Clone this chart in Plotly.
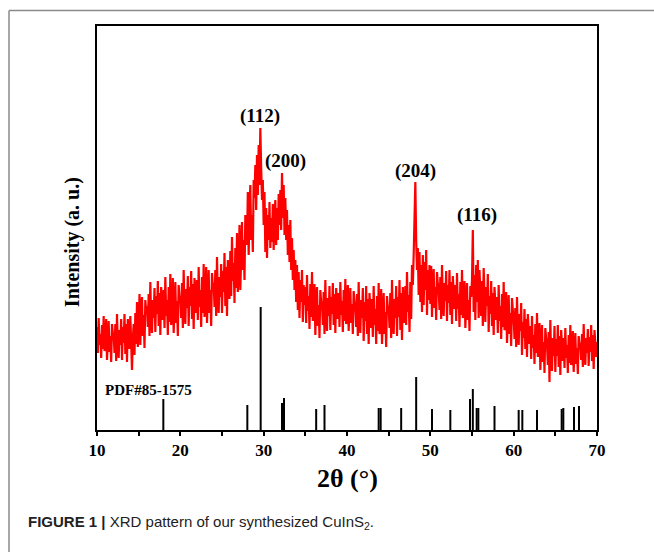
import plotly.graph_objects as go

# Measured XRD scan: 2-theta from 10.0 to 70.0 deg in 0.1 deg steps (a.u.)
two_theta_start = 10.0
two_theta_step = 0.1
intensity = [
    103, 77, 112, 85, 96, 72, 105, 81, 114, 79,
    82, 111, 70, 99, 109, 78, 94, 68, 106, 97,
    95, 77, 106, 69, 116, 82, 72, 100, 85, 111,
    70, 103, 87, 116, 76, 106, 68, 111, 95, 81,
    114, 80, 60, 92, 106, 75, 117, 86, 128, 83,
    100, 136, 85, 121, 133, 94, 115, 82, 130, 118,
    124, 103, 136, 94, 148, 109, 97, 130, 112, 142,
    98, 134, 116, 149, 104, 137, 95, 143, 125, 110,
    140, 102, 153, 114, 130, 95, 143, 108, 156, 105,
    113, 152, 97, 136, 148, 107, 129, 94, 145, 132,
    134, 112, 147, 102, 160, 118, 106, 141, 122, 154,
    104, 143, 124, 159, 111, 146, 101, 152, 133, 117,
    150, 110, 163, 123, 140, 103, 153, 117, 166, 113,
    124, 163, 107, 147, 160, 117, 140, 104, 157, 144,
    147, 123, 160, 114, 173, 130, 117, 153, 133, 166,
    117, 159, 138, 177, 124, 163, 114, 170, 149, 131,
    179, 134, 193, 149, 167, 127, 182, 142, 197, 138,
    160, 205, 140, 188, 208, 160, 190, 150, 215, 200,
    185, 238, 175, 222, 245, 190, 215, 178, 250, 232,
    265, 220, 275, 235, 285, 245, 302, 262, 230, 250,
    205, 238, 178, 222, 172, 215, 190, 228, 182, 212,
    188, 226, 180, 215, 230, 185, 222, 190, 236, 205,
    240, 200, 257, 212, 245, 195, 232, 190, 220, 175,
    205, 168, 210, 160, 192, 150, 180, 140, 170, 128,
    165, 120, 158, 112, 150, 128, 160, 108, 145, 125,
    143, 107, 155, 119, 134, 101, 146, 113, 158, 110,
    110, 146, 95, 131, 143, 104, 125, 92, 140, 128,
    126, 105, 138, 96, 150, 111, 99, 132, 114, 144,
    100, 133, 116, 147, 105, 136, 97, 142, 125, 111,
    137, 103, 148, 115, 129, 98, 140, 109, 151, 106,
    112, 145, 99, 131, 142, 107, 126, 96, 139, 128,
    124, 103, 136, 94, 148, 109, 97, 130, 112, 142,
    89, 128, 109, 144, 96, 131, 86, 137, 118, 102,
    131, 93, 144, 105, 121, 86, 134, 99, 147, 96,
    102, 141, 86, 125, 137, 96, 118, 83, 134, 121,
    124, 102, 137, 92, 150, 108, 96, 131, 112, 144,
    94, 133, 113, 150, 100, 137, 90, 143, 123, 107,
    144, 105, 158, 118, 135, 98, 148, 111, 165, 145,
    175, 215, 248, 190, 160, 182, 135, 178, 128, 165,
    118, 175, 125, 168, 140, 180, 115, 160, 130, 165,
    126, 164, 113, 149, 161, 122, 143, 110, 158, 146,
    141, 120, 153, 111, 165, 126, 114, 147, 129, 159,
    109, 145, 127, 160, 115, 148, 106, 154, 136, 121,
    145, 109, 157, 121, 136, 103, 148, 115, 160, 112,
    116, 149, 102, 135, 147, 110, 130, 99, 144, 133,
    150, 200, 118, 155, 110, 165, 128, 170, 112, 160,
    136, 114, 149, 104, 162, 120, 108, 143, 124, 156,
    98, 134, 116, 149, 104, 137, 95, 143, 125, 110,
    133, 97, 145, 109, 124, 91, 136, 103, 148, 100,
    102, 138, 87, 123, 135, 96, 117, 84, 132, 120,
    111, 91, 122, 83, 133, 97, 85, 116, 99, 127,
    75, 108, 92, 121, 81, 111, 73, 116, 100, 86,
    104, 71, 114, 82, 95, 66, 106, 77, 117, 74,
    74, 107, 60, 93, 105, 68, 88, 57, 102, 91,
    86, 65, 98, 48, 110, 71, 59, 92, 74, 104,
    58, 91, 74, 105, 63, 94, 55, 100, 83, 69,
    92, 62, 102, 72, 85, 57, 95, 67, 105, 65,
    70, 99, 58, 87, 97, 66, 82, 56, 94, 85,
    87, 70, 96, 63, 106, 75, 65, 92, 77, 101,
    64, 93, 78, 105, 69, 95, 61, 100, 85, 73,
    88,
]
two_theta = [round(two_theta_start + i * two_theta_step, 1) for i in range(len(intensity))]

# Standard card PDF#85-1575 (CuInS2): line positions and relative heights
ref_positions = [17.96, 28.04, 29.64, 32.2, 32.44, 36.3, 37.3, 43.8, 44.04, 46.5,
                 48.3, 50.2, 52.4, 54.76, 55.1, 55.56, 55.76, 57.7, 60.6, 61.04,
                 62.8, 65.76, 65.96, 67.24, 67.84]
ref_heights = [31, 25, 123, 27, 32, 21, 25, 22, 22, 22,
               53, 21, 20, 31, 41, 22, 22, 24, 20, 20,
               20, 21, 22, 23, 24]

# Miller indices of the indexed reflections
hkl_labels = ["(112)", "(200)", "(204)", "(116)"]
hkl_x = [29.6, 32.6, 48.2, 55.6]
hkl_y = [314, 269, 259, 215]

x_ticks = [10, 20, 30, 40, 50, 60, 70]

# Build vertical stick segments for the reference card
stick_x, stick_y = [], []
for p, h in zip(ref_positions, ref_heights):
    stick_x += [p, p, None]
    stick_y += [0, h, None]

serif = "Liberation Serif"

fig = go.Figure()
fig.add_trace(go.Scatter(
    x=two_theta, y=intensity, mode="lines",
    line=dict(color="#ff0000", width=2.2),
    hoverinfo="skip", showlegend=False,
))
fig.add_trace(go.Scatter(
    x=stick_x, y=stick_y, mode="lines",
    line=dict(color="black", width=2),
    hoverinfo="skip", showlegend=False,
))

annotations = []
for t, x, y in zip(hkl_labels, hkl_x, hkl_y):
    annotations.append(dict(
        x=x, y=y, xref="x", yref="y", text=f"<b>{t}</b>", showarrow=False,
        xanchor="center", yanchor="middle",
        font=dict(family=serif, size=19, color="black"),
    ))
annotations.append(dict(
    x=10.7, y=40, xref="x", yref="y", text="<b>PDF#85-1575</b>", showarrow=False,
    xanchor="left", yanchor="middle", font=dict(family=serif, size=15, color="black"),
))
# Axis titles
annotations.append(dict(
    x=-0.05, y=0.465, xref="paper", yref="paper", text="<b>Intensity (a. u.)</b>",
    showarrow=False, textangle=-90, xanchor="center", yanchor="middle",
    font=dict(family=serif, size=20, color="black"),
))
annotations.append(dict(
    x=0.5, y=-0.119, xref="paper", yref="paper", text="<b>2θ (°)</b>",
    showarrow=False, xanchor="center", yanchor="middle",
    font=dict(family=serif, size=26, color="black"),
))
# Figure caption
annotations.append(dict(
    x=-0.142, y=-0.228, xref="paper", yref="paper", xanchor="left", yanchor="middle",
    text="<b>FIGURE 1 |</b> XRD pattern of our synthesized CuInS<sub>2</sub>.",
    showarrow=False, font=dict(family="Liberation Sans", size=15, color="#222222"),
))

# Page frame (top rule and left rule)
shapes = [
    dict(type="line", xref="paper", yref="paper", x0=-0.176, x1=1.2, y0=1.0384, y1=1.0384,
         line=dict(color="#8a8a8a", width=1.5)),
    dict(type="line", xref="paper", yref="paper", x0=-0.176, x1=-0.176, y0=1.0384, y1=-0.31,
         line=dict(color="#8a8a8a", width=1.5)),
]

fig.update_layout(
    width=654, height=552,
    margin=dict(l=97, r=57, t=26, b=122),
    paper_bgcolor="white", plot_bgcolor="white",
    annotations=annotations, shapes=shapes,
    xaxis=dict(
        range=[10, 70], tickvals=x_ticks, ticktext=[str(v) for v in x_ticks],
        showgrid=False, zeroline=False,
        showline=True, linecolor="black", linewidth=2, mirror=True,
        ticks="outside", ticklen=4, tickwidth=1.5, tickcolor="black",
        minor=dict(dtick=5, tick0=10, ticks="outside", ticklen=4, tickwidth=1.5, tickcolor="black"),
        tickfont=dict(family=serif, size=17, color="black", weight="bold"),
    ),
    yaxis=dict(
        range=[0, 404], showticklabels=False, ticks="",
        showgrid=False, zeroline=False,
        showline=True, linecolor="black", linewidth=2, mirror=True,
    ),
)

fig.write_html("out.html")
